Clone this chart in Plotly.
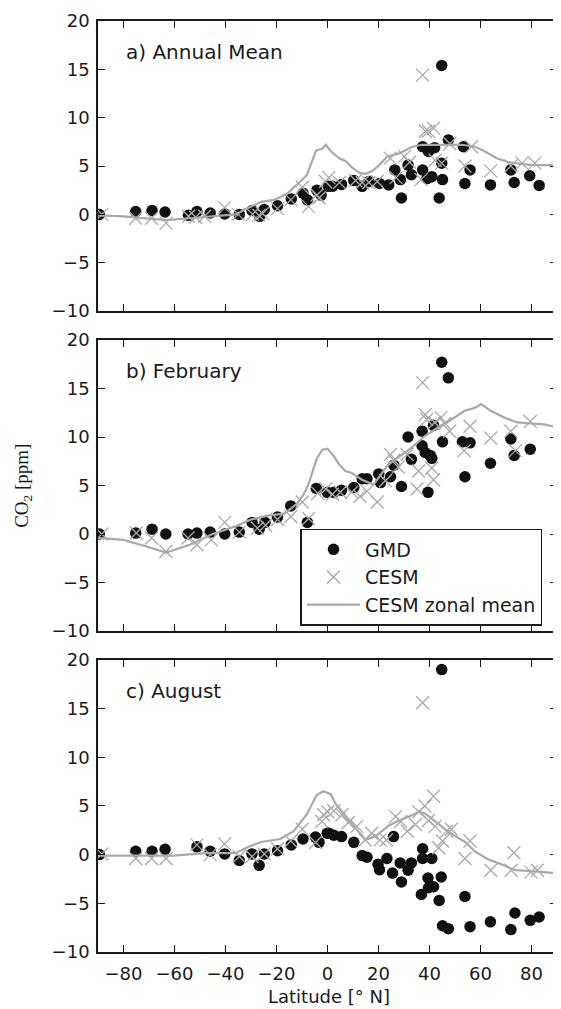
import plotly.graph_objects as go

# ---------------- data ----------------
# Panel a) Annual Mean
gmd_a_lat = [-89.5, -75.2, -68.8, -63.7, -54.5, -51.2, -46, -40.3, -34.6, -29.6, -26.6, -24.8, -19.6, -14.2, -9.6, -7.9,
             -4.2, -2.5, 0.3, 1.9, 5.5, 10.3, 13.6, 16.2, 20.4, 24, 26.4, 28.6, 29, 31.6, 32.9, 37.3, 37.3, 39.0, 39.6,
             40.9, 42, 43.8, 44.8, 45.1, 44.8, 47.4, 53.3, 53.9, 55.9, 63.9, 71.9, 73.2, 79.3, 83]
gmd_a_val = [0.0, 0.3, 0.4, 0.25, -0.1, 0.3, 0.15, 0.05, 0.0, 0.4, -0.2, 0.5, 0.9, 1.6, 2.2, 1.5,
             2.5, 2.0, 2.9, 2.9, 3.1, 3.5, 2.9, 3.4, 3.2, 3.05, 4.6, 3.6, 1.7, 5.1, 4.1, 7.0, 4.6, 3.7, 6.5,
             3.9, 6.9, 1.7, 5.3, 3.6, 15.4, 7.7, 7.0, 3.2, 4.6, 3.05, 4.6, 3.3, 4.0, 3.0]
cesm_a_lat = [-88.5, -75.2, -69, -63.3, -54.5, -51.7, -48.2, -40.3, -35, -29.4, -26.9, -25.5, -19.6, -14.4, -9.9, -7.4,
              -4.1, -3.3, -0.8, 0.5, 4.7, 11, 13.6, 16.2, 19.5, 24.6, 26.9, 30.2, 32.2, 36.7, 37.3, 38.4, 39.6, 41.6,
              42.2, 44.8, 48, 53.9, 56.5, 64, 71.9, 76.3, 81.3]
cesm_a_val = [0.0, -0.4, -0.4, -0.9, -0.2, -0.3, -0.2, 0.7, 0.0, 0.0, -0.1, 0.1, 0.6, 1.5, 2.8, 0.8,
              2.0, 1.7, 3.4, 3.8, 3.3, 3.5, 3.3, 3.3, 3.4, 5.8, 3.8, 6.0, 5.4, 3.6, 14.4, 8.6, 8.6, 8.9,
              5.6, 5.3, 7.3, 5.0, 7.0, 4.5, 5.0, 5.3, 5.3]
zonal_a_lat = [-90, -80, -72, -63, -54, -45, -36, -31, -26, -21, -16, -11, -8, -4.5, -2, -0.7, 1.4, 4.6, 7.2, 9.8,
               12.5, 15, 17.7, 20.3, 23.5, 28, 33.3, 37, 42.3, 47.5, 52.7, 57.9, 61.8, 66.4, 71, 76.2, 81.4, 90]
zonal_a_val = [-0.1, -0.2, -0.4, -0.6, -0.4, -0.2, 0.0, 0.7, 1.3, 1.5, 2.1, 3.3, 4.1, 6.6, 6.8, 7.2, 6.5, 5.8, 5.5, 4.8,
               4.3, 4.2, 4.5, 5.1, 6.0, 6.3, 7.0, 7.2, 7.2, 7.2, 7.2, 7.0, 6.5, 5.8, 5.4, 5.2, 5.1, 5.1]

# Panel b) February
gmd_b_lat = [-89.5, -75.2, -68.8, -63.4, -54.7, -51.2, -46, -40.3, -34.6, -29.6, -26.8, -24.5, -19.6, -14.4, -7.9,
             -4.4, -0.1, 2.5, 5.5, 10.3, 13.6, 15.5, 20.1, 20.8, 24.7, 26, 29, 31.6, 32.9, 37.1, 37.1, 38.3, 39.4,
             40.3, 40.9, 41.6, 44.8, 45.1, 47.4, 52.9, 53.9, 55.9, 63.9, 71.9, 73.2, 79.5]
gmd_b_val = [0.0, 0.1, 0.5, 0.0, 0.0, 0.1, 0.2, 0.0, 0.2, 1.2, 0.5, 1.2, 1.75, 2.9, 1.2,
             4.7, 4.3, 4.3, 4.5, 4.8, 5.7, 5.7, 6.2, 5.3, 5.9, 7.1, 4.9, 10.0, 7.7, 10.6, 9.1, 8.4, 4.3,
             8.1, 7.8, 11.2, 17.7, 9.5, 16.1, 9.5, 5.9, 9.4, 7.3, 9.8, 8.1, 8.75]
cesm_b_lat = [-88.5, -75, -69, -63.4, -54.7, -51.2, -45.6, -40.3, -34.6, -27.5, -24.3, -19.6, -14.4, -9.9, -7.4,
              -3.8, -0.7, 1.9, 5, 9.5, 12.7, 15.5, 19.5, 22.7, 24.7, 26, 27.7, 31.2, 35.1, 35.7, 37.3, 38.3, 38.9,
              40.9, 41.6, 42, 44.5, 46, 47.9, 53.6, 55.9, 64, 71.9, 73.7, 79.5]
cesm_b_val = [0.0, 0.1, -0.4, -1.8, -0.4, -1.1, -0.6, 1.2, 0.2, 0.6, 0.9, 1.5, 1.8, 3.3, 1.6,
              4.2, 4.65, 4.1, 4.3, 4.3, 3.9, 4.4, 3.3, 5.5, 8.2, 7.6, 6.9, 8.2, 4.65, 6.5, 15.6, 12.3, 11.8,
              6.8, 5.6, 11.5, 12.0, 11.4, 10.6, 8.6, 11.1, 9.9, 10.6, 8.6, 11.6]
zonal_b_lat = [-90, -80, -72, -63.3, -54, -45, -36, -30, -23.5, -17, -12, -9.3, -7.5, -4.2, -2, 0, 2.5, 4.5, 7,
               9.5, 13.5, 18, 20.6, 23.8, 27.8, 33, 38.2, 43.4, 48.6, 53.8, 57.7, 60.3, 64, 69.3, 74.5, 79.7, 84.9, 90]
zonal_b_val = [-0.4, -0.6, -1.2, -1.9, -1.1, 0.0, 0.8, 1.5, 1.9, 2.1, 3.1, 4.1, 5.1, 7.8, 8.7, 8.8, 8.0, 7.2, 6.5,
               6.3, 5.6, 5.1, 6.0, 7.2, 7.9, 8.9, 10.1, 11.0, 11.8, 12.7, 13.0, 13.4, 12.7, 12.0, 11.5, 11.4, 11.3, 11.0]

# Panel c) August
gmd_c_lat = [-89.5, -75.2, -68.8, -63.7, -51.2, -46, -40.3, -34.6, -29.6, -26.8, -24.8, -19.6, -14.2, -9.6, -4.7,
             -3.3, -0.1, 0.6, 2.5, 5.5, 10.3, 13.6, 15.5, 19.8, 20.4, 23.3, 25.5, 25.9, 28.5, 29, 31.6, 32.9,
             36.8, 37.3, 37.3, 39.4, 39.6, 40.9, 41.6, 43.8, 44.6, 44.8, 45.1, 47.4, 53.9, 55.9, 63.9, 71.9,
             73.5, 79.5, 83]
gmd_c_val = [0.0, 0.34, 0.34, 0.54, 0.8, 0.34, 0.07, -0.6, 0.07, -1.1, 0.07, 0.4, 1.0, 1.6, 1.8,
             1.26, 2.2, 2.2, 2.0, 1.85, 1.26, -0.1, -0.27, -1.0, -1.55, -0.4, -1.9, 1.85, -0.85, -2.8, -1.6, -0.85,
             -4.1, 0.6, -0.4, -2.4, -3.4, -0.4, -3.3, -4.7, -2.3, 19.0, -7.3, -7.6, -4.3, -7.4, -6.9, -7.7,
             -6.0, -6.75, -6.4]
cesm_c_lat = [-88.5, -75.2, -69, -63.3, -51.2, -46, -40.3, -34.6, -29.6, -24.8, -19.6, -14.4, -9.9, -4.7, -2.2,
              -1.5, 0.1, 2.5, 5.7, 8.2, 11.5, 14.8, 17.3, 20.6, 23.1, 26.7, 28.7, 31.3, 34.5, 35.8, 37.3, 38.2,
              39.6, 41.6, 42.2, 43.6, 45.1, 46.7, 48.6, 53.9, 55.9, 64, 72, 73.1, 79.8, 82.3]
cesm_c_val = [0.07, -0.4, -0.4, -0.4, 1.0, 0.0, 1.1, -0.2, -0.2, 0.07, 0.6, 1.4, 2.6, 1.25, 3.4,
              4.1, 4.4, 4.5, 4.1, 3.3, 2.9, 1.5, 2.2, 1.5, 1.5, 3.9, 3.4, 2.4, 3.1, 4.4, 15.6, 5.0,
              3.5, 6.0, 2.9, 0.7, 1.4, 2.4, 2.6, -0.4, 1.4, -1.6, -1.6, 0.2, -1.8, -1.6]
zonal_c_lat = [-90, -80, -60.5, -47.6, -36, -31, -26, -18.5, -13.3, -8.2, -4.3, -1.7, 1.3, 3.2, 7.2, 11.1, 15,
               18.9, 24.1, 28, 31.9, 35.8, 38.4, 42.3, 46.2, 50.1, 54, 57.9, 63.1, 68.3, 73.5, 80, 90]
zonal_c_val = [-0.1, -0.1, -0.1, 0.15, 0.15, 0.8, 1.3, 1.6, 2.4, 4.1, 6.1, 6.5, 6.2, 5.2, 3.9, 2.7, 1.5,
               1.9, 3.0, 3.5, 3.9, 4.4, 4.2, 3.4, 2.6, 1.9, 1.3, 0.3, -0.5, -1.0, -1.6, -1.7, -1.9]

panel_titles = ["a) Annual Mean", "b) February", "c) August"]
x_ticks = [-80, -60, -40, -20, 0, 20, 40, 60, 80]
y_ticks = [-10, -5, 0, 5, 10, 15, 20]

# ---------------- styling ----------------
DARK = "#1a1a1a"
GRAY = "#a9a9a9"
FONT = "DejaVu Sans"

panels = [
    (gmd_a_lat, gmd_a_val, cesm_a_lat, cesm_a_val, zonal_a_lat, zonal_a_val),
    (gmd_b_lat, gmd_b_val, cesm_b_lat, cesm_b_val, zonal_b_lat, zonal_b_val),
    (gmd_c_lat, gmd_c_val, cesm_c_lat, cesm_c_val, zonal_c_lat, zonal_c_val),
]
domains = [[0.6884, 1.0], [0.3447, 0.6574], [0.0, 0.3138]]

fig = go.Figure()
for i, (glat, gval, clat, cval, zlat, zval) in enumerate(panels):
    sfx = "" if i == 0 else str(i + 1)
    xa, ya = "x" + sfx, "y" + sfx
    show = (i == 0)
    fig.add_trace(go.Scatter(x=glat, y=gval, xaxis=xa, yaxis=ya, mode="markers", name="GMD",
                             marker=dict(symbol="circle", size=11.5, color="#111111", line=dict(width=0)),
                             showlegend=show, legendgroup="gmd"))
    fig.add_trace(go.Scatter(x=clat, y=cval, xaxis=xa, yaxis=ya, mode="markers", name="CESM",
                             marker=dict(symbol="x-thin-open", size=13, color=GRAY, line=dict(width=1.3, color=GRAY)),
                             showlegend=show, legendgroup="cesm"))
    fig.add_trace(go.Scatter(x=zlat, y=zval, xaxis=xa, yaxis=ya, mode="lines", name="CESM zonal mean",
                             line=dict(color=GRAY, width=2.2),
                             showlegend=show, legendgroup="zm"))

axis_common = dict(showline=True, linecolor=DARK, linewidth=1.6, mirror="ticks", ticks="inside",
                   ticklen=7, tickwidth=1, tickcolor=DARK, showgrid=False, zeroline=False,
                   tickfont=dict(family=FONT, size=18, color=DARK))
layout = {}
for i in range(3):
    sfx = "" if i == 0 else str(i + 1)
    layout["xaxis" + sfx] = dict(axis_common, range=[-90, 90], tickvals=x_ticks, domain=[0, 1],
                                 anchor="y" + sfx, showticklabels=(i == 2), ticklabelstandoff=5)
    layout["yaxis" + sfx] = dict(axis_common, range=[-10, 20], tickvals=y_ticks, domain=domains[i],
                                 anchor="x" + sfx, ticklabelstandoff=3)
fig.update_layout(**layout)

annotations = []
for i, t in enumerate(panel_titles):
    sfx = "" if i == 0 else str(i + 1)
    annotations.append(dict(text=t, xref="x" + sfx + " domain", yref="y" + sfx + " domain", x=0.056, y=0.892,
                            xanchor="left", yanchor="middle", showarrow=False,
                            font=dict(family=FONT, size=20, color=DARK)))
annotations.append(dict(text="CO<sub>2</sub> [ppm]", xref="paper", yref="paper", x=-0.165, y=0.501,
                        textangle=-90, showarrow=False, xanchor="center", yanchor="middle",
                        font=dict(family="Liberation Serif", size=19, color=DARK)))
annotations.append(dict(text="Latitude [° N]", xref="paper", yref="paper", x=0.503, y=-0.048,
                        showarrow=False, xanchor="center", yanchor="middle",
                        font=dict(family=FONT, size=18, color=DARK)))

# The page body adds an 8 px margin, so the figure is 8 px smaller and offset.
fig.update_layout(
    width=553, height=1001,
    margin=dict(l=90, r=2, t=7, b=57),
    paper_bgcolor="white", plot_bgcolor="white",
    annotations=annotations,
    showlegend=True,
    legend=dict(x=0.441, y=0.4545, xanchor="left", yanchor="top", bgcolor="white",
                bordercolor=DARK, borderwidth=1.6, itemwidth=53,
                font=dict(family=FONT, size=19, color=DARK), tracegroupgap=0),
)

fig.write_html("out.html")
